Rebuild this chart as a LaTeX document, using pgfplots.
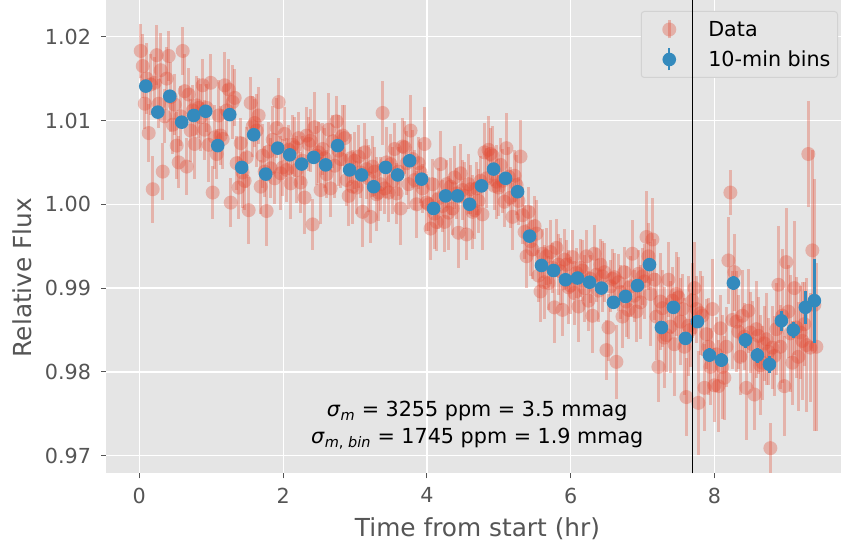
\documentclass[border=0pt]{standalone}
\usepackage{fontspec}
\setmainfont{DejaVu Sans}
\usepackage{pgfplots}
\pgfplotsset{compat=1.18}
\usepackage{pgfplotstable}
\pgfdeclarelayer{topmost}
\definecolor{ggred}{HTML}{E24A33}
\definecolor{ggblue}{HTML}{348ABD}
\definecolor{ggbg}{HTML}{E5E5E5}
\definecolor{ggtext}{HTML}{555555}
\definecolor{gglegend}{HTML}{D2D2D2}

\pgfplotstableread{
t y e
0.020 1.0183 0.0032
0.048 1.0165 0.0038
0.076 1.0120 0.0030
0.103 1.0150 0.0042
0.131 1.0085 0.0035
0.159 1.0143 0.0036
0.187 1.0018 0.0040
0.215 1.0145 0.0031
0.243 1.0178 0.0036
0.270 1.0120 0.0029
0.298 1.0160 0.0044
0.326 1.0039 0.0034
0.354 1.0105 0.0032
0.381 1.0150 0.0038
0.409 1.0177 0.0030
0.437 1.0128 0.0042
0.465 1.0095 0.0035
0.493 1.0119 0.0036
0.520 1.0070 0.0040
0.548 1.0050 0.0031
0.576 1.0105 0.0036
0.604 1.0183 0.0029
0.632 1.0135 0.0044
0.659 1.0045 0.0034
0.687 1.0131 0.0032
0.715 1.0088 0.0038
0.743 1.0112 0.0030
0.770 1.0072 0.0042
0.798 1.0118 0.0035
0.826 1.0115 0.0036
0.854 1.0104 0.0040
0.882 1.0142 0.0031
0.910 1.0089 0.0036
0.937 1.0115 0.0029
0.965 1.0071 0.0044
0.993 1.0145 0.0034
1.021 1.0014 0.0032
1.049 1.0080 0.0038
1.077 1.0060 0.0030
1.104 1.0106 0.0042
1.132 1.0082 0.0035
1.160 1.0078 0.0036
1.188 1.0142 0.0040
1.216 1.0112 0.0031
1.244 1.0137 0.0036
1.271 1.0002 0.0029
1.299 1.0122 0.0044
1.327 1.0127 0.0034
1.354 1.0049 0.0032
1.382 1.0020 0.0038
1.410 1.0073 0.0030
1.437 1.0038 0.0042
1.465 1.0028 0.0035
1.493 1.0056 0.0036
1.521 0.9993 0.0040
1.549 1.0121 0.0031
1.577 1.0093 0.0036
1.604 1.0097 0.0029
1.632 1.0088 0.0044
1.660 1.0106 0.0034
1.688 1.0021 0.0032
1.716 1.0058 0.0038
1.744 1.0039 0.0030
1.771 0.9992 0.0042
1.799 1.0063 0.0035
1.827 1.0043 0.0036
1.855 1.0077 0.0040
1.883 1.0031 0.0031
1.911 1.0091 0.0036
1.938 1.0122 0.0029
1.966 1.0037 0.0044
1.994 1.0044 0.0034
2.022 1.0084 0.0032
2.050 1.0041 0.0038
2.078 1.0065 0.0030
2.105 1.0025 0.0042
2.133 1.0071 0.0035
2.161 1.0068 0.0036
2.188 1.0041 0.0040
2.216 1.0079 0.0031
2.244 1.0026 0.0036
2.271 1.0052 0.0029
2.299 1.0008 0.0044
2.327 1.0082 0.0034
2.355 1.0072 0.0032
2.383 1.0076 0.0038
2.411 0.9976 0.0030
2.438 1.0092 0.0042
2.466 1.0058 0.0035
2.494 1.0062 0.0036
2.522 1.0017 0.0040
2.550 1.0066 0.0031
2.578 1.0055 0.0036
2.605 1.0036 0.0029
2.633 1.0089 0.0044
2.661 1.0019 0.0034
2.689 1.0075 0.0032
2.717 1.0046 0.0038
2.745 1.0099 0.0030
2.772 1.0064 0.0042
2.800 1.0054 0.0035
2.828 1.0082 0.0036
2.856 1.0079 0.0040
2.884 1.0029 0.0031
2.912 1.0010 0.0036
2.939 1.0055 0.0029
2.967 1.0021 0.0044
2.995 1.0052 0.0034
3.022 1.0020 0.0032
3.050 1.0057 0.0038
3.078 1.0038 0.0030
3.105 0.9991 0.0042
3.133 1.0062 0.0035
3.161 1.0042 0.0036
3.189 1.0031 0.0040
3.217 0.9985 0.0031
3.245 1.0045 0.0036
3.272 1.0039 0.0029
3.300 1.0012 0.0044
3.328 1.0014 0.0034
3.356 1.0024 0.0032
3.384 1.0109 0.0038
3.412 1.0019 0.0030
3.439 1.0050 0.0042
3.467 1.0014 0.0035
3.495 1.0048 0.0036
3.523 1.0028 0.0040
3.551 1.0066 0.0031
3.579 1.0013 0.0036
3.606 1.0039 0.0029
3.634 0.9995 0.0044
3.662 1.0069 0.0034
3.690 1.0068 0.0032
3.718 1.0049 0.0038
3.746 1.0024 0.0030
3.773 1.0088 0.0042
3.801 1.0054 0.0035
3.829 1.0029 0.0036
3.856 1.0000 0.0040
3.884 1.0049 0.0031
3.912 1.0038 0.0036
3.939 1.0019 0.0029
3.967 1.0072 0.0044
3.995 1.0002 0.0034
4.023 1.0000 0.0032
4.051 0.9971 0.0038
4.079 1.0024 0.0030
4.106 0.9989 0.0042
4.134 0.9979 0.0035
4.162 1.0007 0.0036
4.190 1.0048 0.0040
4.218 0.9998 0.0031
4.246 0.9979 0.0036
4.273 1.0024 0.0029
4.301 0.9990 0.0044
4.329 1.0021 0.0034
4.357 0.9995 0.0032
4.385 1.0032 0.0038
4.413 1.0013 0.0030
4.440 0.9966 0.0042
4.468 1.0037 0.0035
4.496 1.0017 0.0036
4.524 1.0010 0.0040
4.552 0.9964 0.0031
4.580 1.0024 0.0036
4.607 1.0018 0.0029
4.635 0.9991 0.0044
4.663 0.9993 0.0034
4.690 1.0019 0.0032
4.718 1.0004 0.0038
4.746 1.0028 0.0030
4.773 0.9988 0.0042
4.801 1.0062 0.0035
4.829 1.0031 0.0036
4.857 1.0065 0.0040
4.885 1.0060 0.0031
4.913 1.0058 0.0036
4.940 1.0022 0.0029
4.968 1.0027 0.0044
4.996 1.0020 0.0034
5.024 1.0047 0.0032
5.052 1.0028 0.0038
5.080 1.0003 0.0030
5.107 1.0067 0.0042
5.135 1.0033 0.0035
5.163 1.0008 0.0036
5.191 0.9985 0.0040
5.219 1.0034 0.0031
5.247 1.0023 0.0036
5.274 1.0004 0.0029
5.302 1.0057 0.0044
5.330 0.9987 0.0034
5.358 0.9967 0.0032
5.386 0.9938 0.0038
5.414 0.9991 0.0030
5.441 0.9956 0.0042
5.469 0.9946 0.0035
5.497 0.9974 0.0036
5.524 0.9965 0.0040
5.552 0.9915 0.0031
5.580 0.9896 0.0036
5.607 0.9941 0.0029
5.635 0.9907 0.0044
5.663 0.9938 0.0034
5.691 0.9906 0.0032
5.719 0.9943 0.0038
5.747 0.9924 0.0030
5.774 0.9877 0.0042
5.802 0.9948 0.0035
5.830 0.9928 0.0036
5.858 0.9920 0.0040
5.886 0.9874 0.0031
5.914 0.9934 0.0036
5.941 0.9928 0.0029
5.969 0.9901 0.0044
5.997 0.9903 0.0034
6.025 0.9937 0.0032
6.053 0.9894 0.0038
6.081 0.9918 0.0030
6.108 0.9878 0.0042
6.136 0.9924 0.0035
6.164 0.9921 0.0036
6.192 0.9900 0.0040
6.220 0.9938 0.0031
6.248 0.9885 0.0036
6.275 0.9911 0.0029
6.303 0.9867 0.0044
6.331 0.9941 0.0034
6.358 0.9916 0.0032
6.386 0.9897 0.0038
6.414 0.9928 0.0030
6.441 0.9914 0.0042
6.469 0.9919 0.0035
6.497 0.9826 0.0036
6.525 0.9853 0.0040
6.553 0.9902 0.0031
6.581 0.9911 0.0036
6.608 0.9913 0.0029
6.636 0.9812 0.0044
6.664 0.9907 0.0034
6.692 0.9895 0.0032
6.720 0.9866 0.0038
6.748 0.9919 0.0030
6.775 0.9884 0.0042
6.803 0.9874 0.0035
6.831 0.9902 0.0036
6.859 0.9941 0.0040
6.887 0.9891 0.0031
6.915 0.9872 0.0036
6.942 0.9917 0.0029
6.970 0.9883 0.0044
6.998 0.9914 0.0034
7.026 0.9908 0.0045
7.054 0.9961 0.0055
7.082 0.9938 0.0040
7.109 0.9893 0.0062
7.137 0.9958 0.0050
7.165 0.9910 0.0048
7.192 0.9866 0.0052
7.220 0.9806 0.0042
7.248 0.9884 0.0058
7.275 0.9876 0.0046
7.303 0.9841 0.0060
7.331 0.9844 0.0044
7.359 0.9910 0.0045
7.387 0.9854 0.0055
7.415 0.9885 0.0040
7.442 0.9833 0.0062
7.470 0.9893 0.0050
7.498 0.9889 0.0048
7.526 0.9860 0.0052
7.554 0.9875 0.0042
7.582 0.9830 0.0058
7.609 0.9770 0.0046
7.637 0.9855 0.0060
7.665 0.9850 0.0044
7.693 0.9885 0.0045
7.721 0.9900 0.0055
7.749 0.9875 0.0040
7.776 0.9763 0.0062
7.804 0.9870 0.0050
7.832 0.9867 0.0048
7.860 0.9781 0.0052
7.888 0.9845 0.0042
7.916 0.9830 0.0058
7.943 0.9806 0.0046
7.971 0.9875 0.0060
7.999 0.9784 0.0044
8.026 0.9821 0.0045
8.054 0.9783 0.0055
8.082 0.9852 0.0040
8.109 0.9806 0.0062
8.137 0.9793 0.0050
8.165 0.9830 0.0048
8.193 0.9933 0.0052
8.221 1.0014 0.0027
8.249 0.9862 0.0058
8.276 0.9919 0.0046
8.304 0.9860 0.0060
8.332 0.9848 0.0044
8.360 0.9818 0.0045
8.388 0.9867 0.0055
8.416 0.9842 0.0040
8.443 0.9781 0.0062
8.471 0.9873 0.0050
8.499 0.9847 0.0048
8.527 0.9833 0.0052
8.555 0.9773 0.0042
8.583 0.9851 0.0058
8.610 0.9843 0.0046
8.638 0.9808 0.0060
8.666 0.9811 0.0044
8.694 0.9834 0.0045
8.722 0.9839 0.0055
8.750 0.9824 0.0040
8.777 0.9709 0.0030
8.805 0.9829 0.0050
8.833 0.9819 0.0048
8.860 0.9851 0.0055
8.888 0.9904 0.0070
8.916 0.9830 0.0050
8.943 0.9867 0.0080
8.971 0.9783 0.0060
8.999 0.9931 0.0065
9.027 0.9872 0.0055
9.055 0.9846 0.0070
9.083 0.9811 0.0050
9.110 0.9900 0.0080
9.138 0.9853 0.0060
9.166 0.9818 0.0065
9.194 0.9847 0.0055
9.222 0.9837 0.0070
9.250 0.9857 0.0050
9.277 0.9832 0.0080
9.305 1.0060 0.0063
9.333 0.9829 0.0065
9.361 0.9945 0.0120
9.389 0.9880 0.0150
9.417 0.9830 0.0100
}\rawdata

\pgfplotstableread{
t y e
0.090 1.0141 0.0007
0.257 1.0110 0.0007
0.424 1.0129 0.0007
0.590 1.0098 0.0007
0.757 1.0106 0.0007
0.924 1.0111 0.0007
1.091 1.0070 0.0007
1.258 1.0107 0.0007
1.424 1.0044 0.0007
1.591 1.0083 0.0007
1.758 1.0036 0.0007
1.925 1.0067 0.0007
2.092 1.0059 0.0007
2.258 1.0048 0.0007
2.425 1.0056 0.0007
2.592 1.0047 0.0007
2.759 1.0070 0.0007
2.926 1.0041 0.0007
3.092 1.0035 0.0007
3.259 1.0021 0.0007
3.426 1.0044 0.0007
3.593 1.0035 0.0007
3.760 1.0052 0.0007
3.926 1.0030 0.0007
4.093 0.9995 0.0007
4.260 1.0010 0.0007
4.427 1.0010 0.0007
4.594 1.0000 0.0007
4.760 1.0022 0.0007
4.927 1.0042 0.0007
5.094 1.0031 0.0007
5.261 1.0015 0.0007
5.428 0.9962 0.0007
5.594 0.9927 0.0007
5.761 0.9921 0.0007
5.928 0.9910 0.0007
6.095 0.9912 0.0007
6.262 0.9907 0.0007
6.428 0.9900 0.0007
6.595 0.9883 0.0007
6.762 0.9890 0.0007
6.929 0.9903 0.0007
7.096 0.9928 0.0008
7.262 0.9853 0.0008
7.429 0.9877 0.0008
7.596 0.9840 0.0008
7.763 0.9860 0.0008
7.930 0.9820 0.0008
8.096 0.9814 0.0008
8.263 0.9906 0.0008
8.430 0.9838 0.0009
8.597 0.9820 0.0009
8.764 0.9809 0.0010
8.930 0.9861 0.0012
9.097 0.9850 0.0010
9.264 0.9877 0.0020
9.389 0.9885 0.0050
}\bindata

\begin{document}
\begin{tikzpicture}
\begin{axis}[
  layers/mylayers/.define layer set={axis background,axis grid,axis ticks,axis lines,axis tick labels,main,axis descriptions,axis foreground,topmost}{},
  set layers=mylayers,
  clip mode=individual,
  scale only axis, width=742pt, height=472.8pt,
  at={(0pt,0pt)}, anchor=south west,
  xmin=-0.4562, xmax=9.8637, ymin=0.96790, ymax=1.02432,
  axis background/.style={fill=ggbg},
  axis line style={draw=none},
  grid=major, major grid style={white, line width=1.2pt},
  xtick={0,2,4,6,8},
  ytick={0.97,0.98,0.99,1.00,1.01,1.02},
  tick align=outside, tick pos=left,
  major tick length=5pt,
  tick style={ggtext, line width=1pt},
  ticklabel style={font=\fontsize{20.7}{24.8}\selectfont, text=ggtext},
  yticklabel style={xshift=-7pt, /pgf/number format/.cd, fixed, fixed zerofill, precision=2, assume math mode=true},
  xticklabel style={yshift=-6pt, /pgf/number format/.cd, assume math mode=true},
  xlabel={Time from start (hr)},
  ylabel={Relative Flux},
  xlabel style={at={(axis description cs:0,0)}, anchor=base, xshift=371pt, yshift=-63.7pt, font=\fontsize{24.8}{29}\selectfont, text=ggtext},
  ylabel style={at={(axis description cs:0,0.4141)}, anchor=base, yshift=75pt, font=\fontsize{24.8}{29}\selectfont, text=ggtext},
  legend cell align=left,
  legend style={at={(axis description cs:0.98585,0.97780)}, anchor=north east,
    fill=ggbg, draw=gglegend, line width=1pt, rounded corners=3pt,
    inner xsep=7pt, inner ysep=3pt, row sep=0pt,
    font=\fontsize{20.7}{24.8}\selectfont, text=black,
    nodes={inner sep=0pt}},
]
\addplot[color=ggred, only marks, mark=*, mark size=7pt,
  mark options={draw opacity=0, fill=ggred, fill opacity=0.34},
  legend image code/.code={
    \path[draw=none, fill=none] (0pt,-15pt) rectangle (60pt,15pt);
    \draw[draw=ggred, draw opacity=0.34, line width=2.8pt, rounded corners=0pt] (21pt,-9pt) -- (21pt,9pt);
    \path[draw=none, fill=ggred, fill opacity=0.34] (21pt,0pt) circle (7pt);},
  error bars/.cd, y dir=both, y explicit, error mark=none,
  error bar style={draw=ggred, draw opacity=0.32, line width=2.8pt}]
  table[x=t, y=y, y error=e] {\rawdata};
\addlegendentry{Data}
\addplot[on layer=topmost, black, line width=1pt, forget plot]
  coordinates {(7.70,0.96790) (7.70,1.02432)};
\addplot[color=ggblue, only marks, mark=*, mark size=6.8pt,
  mark options={draw opacity=0, fill=ggblue},
  legend image code/.code={
    \path[draw=none, fill=none] (0pt,-15pt) rectangle (60pt,15pt);
    \draw[draw=ggblue, line width=2.4pt, rounded corners=0pt] (21pt,-11pt) -- (21pt,11pt);
    \path[draw=none, fill=ggblue] (21pt,0pt) circle (6.8pt);},
  error bars/.cd, y dir=both, y explicit, error mark=none,
  error bar style={draw=ggblue, line width=2.8pt}]
  table[x=t, y=y, y error=e] {\bindata};
\addlegendentry{10-min bins}
\node[anchor=base, font=\fontsize{20.7}{24.8}\selectfont] at (axis cs:4.70,0.97462)
  {\textit{σ}\textsubscript{\textit{m}} = 3255 ppm = 3.5 mmag};
\node[anchor=base, font=\fontsize{20.7}{24.8}\selectfont] at (axis cs:4.70,0.97140)
  {\textit{σ}\textsubscript{\textit{m}, \textit{bin}} = 1745 ppm = 1.9 mmag};
\end{axis}
\pgfresetboundingbox
\path[use as bounding box] (-106.5pt,-72.7pt) rectangle (734.5pt,473.3pt);
\end{tikzpicture}
\end{document}
